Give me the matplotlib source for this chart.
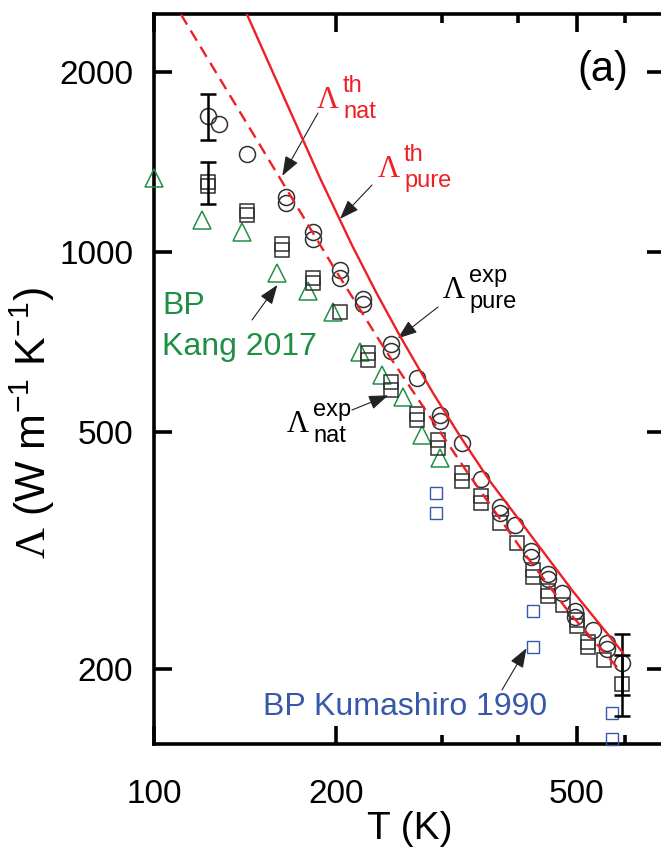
import matplotlib
matplotlib.use("Agg")
import matplotlib.pyplot as plt

plt.rcParams['font.family'] = 'Liberation Sans'
plt.rcParams['mathtext.fontset'] = 'custom'
plt.rcParams['mathtext.rm'] = 'Liberation Sans'
plt.rcParams['mathtext.sf'] = 'Liberation Serif'

# experimental, isotopically pure BP (circles), two runs per temperature
pure_T = [123, 142.5, 165, 183, 203, 222, 247, 272, 297, 323, 348, 373.5, 395, 421, 449, 472, 497, 533, 561, 595]
pure_L = [1690, 1460, 1236, 1080, 932, 835, 702, 614, 533, 478, 417, 374, 349, 315, 289, 268, 250, 233, 221, 205]
pure2_T = [128, 165, 183, 203, 222, 247, 297, 373.5, 421, 449, 497, 561]
pure2_L = [1635, 1206, 1050, 904, 819, 683, 520, 366, 308, 283, 245, 216]

# experimental, natural BP (squares)
nat_T = [123, 142.4, 162.6, 183, 203, 226, 247, 272, 295, 323, 348, 373.5, 398, 423, 449, 475, 500, 523, 554, 595]
nat_L = [1309, 1151, 1006, 885, 793, 676, 606, 523, 484, 426, 379, 351, 325, 293, 271, 256, 242, 222, 207, 189]
nat2_T = [123, 142.4, 162.6, 183, 226, 247, 272, 295, 323, 348, 423, 449, 500, 523]
nat2_L = [1290, 1168, 1030, 905, 660, 588, 535, 469, 414, 390, 286, 265, 236, 218]

# error bars (first and last points)
err_T = [123, 595]
pure_err_L = [1690, 205]
pure_err = [150, 24]
nat_err_L = [1309, 189]
nat_err = [106, 22]

# Kang 2017
kang_T = [100, 120, 140, 160, 180, 198, 219, 238, 258, 277, 297]
kang_L = [1330, 1129, 1080, 920, 860, 793, 680, 622, 572, 493, 451]

# Kumashiro 1990
kum_T = [293, 293, 423, 423, 572, 572]
kum_L = [394, 366, 250, 218, 169, 153]

# theory
th_pure_T = [142.5, 188.2, 212.6, 232.9, 255.3, 289.4, 320.8, 360, 407.6, 493.2, 596.7]
th_pure_L = [2496, 1328, 1025, 856, 722, 580, 491, 412, 349, 270, 213]
th_nat_T = [110.8, 148.1, 197.7, 241.9, 293.9, 329.4, 407.6, 487.5, 589.9]
th_nat_L = [2496, 1536, 946, 682, 508, 428, 315, 248, 199]

red = '#ee1f25'
green = '#1f8f45'
blue = '#3757aa'
mk = '#303030'

W, H = 661, 855
fig = plt.figure(figsize=(W / 100, H / 100), dpi=100)
ax = fig.add_axes([154 / W, 1 - 744 / H, (665 - 154) / W, (744 - 14) / H])
ax.set_xscale('log')
ax.set_yscale('log')

ax.plot(kang_T, kang_L, '^', mfc='none', mec=green, mew=1.1, ms=13.5, clip_on=False, zorder=3)
ax.plot(kum_T, kum_L, 's', mfc='none', mec=blue, mew=1.0, ms=9, clip_on=False, zorder=3)
ax.plot(nat_T, nat_L, 's', mfc='none', mec=mk, mew=1.1, ms=10.5, zorder=3)
ax.plot(nat2_T, nat2_L, 's', mfc='none', mec=mk, mew=1.1, ms=10.5, zorder=3)
ax.plot(pure_T, pure_L, 'o', mfc='none', mec=mk, mew=1.1, ms=11.5, zorder=3)
ax.plot(pure2_T, pure2_L, 'o', mfc='none', mec=mk, mew=1.1, ms=11.5, zorder=3)
ax.errorbar(err_T, pure_err_L, yerr=pure_err, fmt='none', ecolor='k', elinewidth=1.8,
            capsize=5.5, capthick=1.8, zorder=4)
ax.errorbar(err_T, nat_err_L, yerr=nat_err, fmt='none', ecolor='k', elinewidth=1.8,
            capsize=5.5, capthick=1.8, zorder=4)

ax.plot(th_pure_T, th_pure_L, '-', color=red, lw=1.7, zorder=5)
ax.plot(th_nat_T, th_nat_L, color=red, lw=1.7, ls=(0, (5, 3)), zorder=5)

ax.set_xlim(100, 700)
ax.set_ylim(150, 2500)
ax.set_xticks([100, 200, 500])
ax.set_xticklabels(['100', '200', '500'])
ax.set_xticks([300, 400, 600, 700], minor=True)
ax.xaxis.set_minor_formatter(matplotlib.ticker.NullFormatter())
ax.set_yticks([200, 500, 1000, 2000])
ax.set_yticklabels(['200', '500', '1000', '2000'])
ax.yaxis.set_minor_locator(matplotlib.ticker.NullLocator())
ax.tick_params(which='both', direction='in', top=True, right=True, width=2.6, labelsize=24)
ax.tick_params(axis='y', pad=15)
ax.tick_params(axis='x', pad=25)
ax.tick_params(which='major', length=13)
ax.tick_params(which='minor', length=6.5)
for s in ax.spines.values():
    s.set_linewidth(2.6)

ax.set_xlabel('T (K)', fontsize=28, labelpad=1)
ax.set_ylabel(r'$\mathsf{\Lambda}$ (W m$^{\mathrm{-1}}$ K$^{\mathrm{-1}}$)', fontsize=31)
ax.yaxis.set_label_coords(-0.19, 0.44)


def fp(x, y):
    return x / W, 1 - y / H


def lam(x, y, sup, sub, color, dx=26, up=16, down=10):
    fig.text(*fp(x, y), '\u039b', family='Liberation Serif', fontsize=22, color=color, va='baseline')
    fig.text(*fp(x + dx, y - up), sup, fontsize=17, color=color, va='baseline')
    fig.text(*fp(x + dx, y + down), sub, fontsize=17, color=color, va='baseline')


lam(317, 108, 'th', 'nat', red)
lam(378, 177, 'th', 'pure', red)
lam(443, 298, 'exp', 'pure', 'k')
lam(287, 432, 'exp', 'nat', 'k')

fig.text(*fp(577, 81), '(a)', fontsize=30, va='baseline')
fig.text(*fp(162, 314), 'BP', fontsize=23, color=green, va='baseline')
fig.text(*fp(162, 355), 'Kang 2017', fontsize=23, color=green, va='baseline')
fig.text(*fp(263, 715), 'BP Kumashiro 1990', fontsize=23, color=blue, va='baseline')

arrow = dict(arrowstyle='-|>,head_length=0.6,head_width=0.22', color='#222222', lw=0.8,
             mutation_scale=20, shrinkA=0, shrinkB=0)
ax.annotate('', xy=(163, 1340), xytext=(318, H - 113), textcoords='figure pixels', arrowprops=arrow)
ax.annotate('', xy=(203, 1135), xytext=(372, H - 185), textcoords='figure pixels', arrowprops=arrow)
ax.annotate('', xy=(253, 716), xytext=(438, H - 307), textcoords='figure pixels', arrowprops=arrow)
ax.annotate('', xy=(244, 575), xytext=(352, H - 410), textcoords='figure pixels', arrowprops=arrow)
ax.annotate('', xy=(160, 880), xytext=(252, H - 320), textcoords='figure pixels', arrowprops=arrow)
ax.annotate('', xy=(413, 217), xytext=(502, H - 690), textcoords='figure pixels', arrowprops=arrow)

fig.savefig('out.png', dpi=100)
